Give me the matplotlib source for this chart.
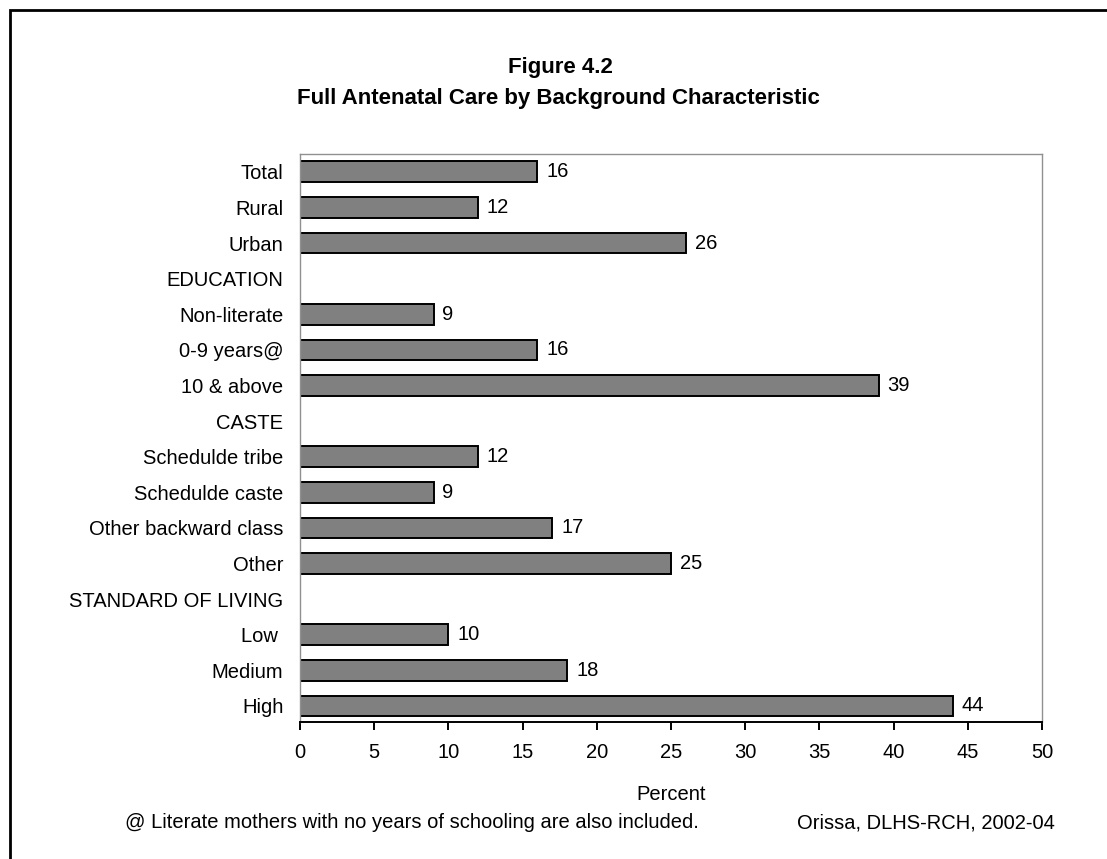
import matplotlib.pyplot as plt
from matplotlib.patches import Rectangle

plt.rcParams['font.family'] = ['Liberation Sans', 'DejaVu Sans']

# Full antenatal care (%) by background characteristic
categories = ['Total', 'Rural', 'Urban', 'EDUCATION', 'Non-literate', '0-9 years@',
              '10 & above', 'CASTE', 'Schedulde tribe', 'Schedulde caste',
              'Other backward class', 'Other', 'STANDARD OF LIVING', 'Low ',
              'Medium', 'High']
values = [16, 12, 26, None, 9, 16, 39, None, 12, 9, 17, 25, None, 10, 18, 44]
xticks = list(range(0, 51, 5))

W, H = 1107, 859
fs = 14.5

fig = plt.figure(figsize=(W / 100, H / 100), dpi=100)
# plot area in pixels: x 300..1042, y 154..722
ax = fig.add_axes([300 / W, 1 - 722 / H, 742 / W, 568 / H])

pos = list(range(len(categories)))
for y, v in zip(pos, values):
    if v is None:
        continue
    ax.barh(y, v, height=0.58, color='#808080', edgecolor='black', linewidth=1.4)
    ax.text(v + 0.6, y, str(v), va='center', ha='left', fontsize=fs)

ax.set_ylim(len(categories) - 0.55, -0.5)
ax.set_xlim(0, 50)
ax.set_xticks(xticks)
ax.set_xticklabels([str(t) for t in xticks], fontsize=fs)
ax.set_yticks(pos)
ax.set_yticklabels(categories, fontsize=fs)
ax.tick_params(axis='y', length=0, pad=12)
ax.tick_params(axis='x', direction='out', length=6, width=1.4, pad=9)

for side in ['top', 'right', 'left']:
    ax.spines[side].set_color('#909090')
    ax.spines[side].set_linewidth(1.0)
ax.spines['bottom'].set_linewidth(1.4)

fig.text(560 / W, 1 - 73 / H, 'Figure 4.2', ha='center', va='baseline',
         fontsize=16, fontweight='bold')
fig.text(558 / W, 1 - 104 / H, 'Full Antenatal Care by Background Characteristic',
         ha='center', va='baseline', fontsize=16, fontweight='bold')
fig.text(671 / W, 1 - 795 / H, 'Percent', ha='center', va='center', fontsize=fs)
fig.text(125 / W, 1 - 823 / H, '@ Literate mothers with no years of schooling are also included.',
         ha='left', va='center', fontsize=fs)
fig.text(1055 / W, 1 - 823 / H, 'Orissa, DLHS-RCH, 2002-04', ha='right', va='center', fontsize=fs)

# outer frame, running off the right and bottom edges
fig.patches.append(Rectangle((10 / W, -0.05), 1.2, 1 - 10 / H + 0.05,
                             transform=fig.transFigure, fill=False,
                             edgecolor='black', linewidth=2))

fig.savefig('out.png', dpi=100)
